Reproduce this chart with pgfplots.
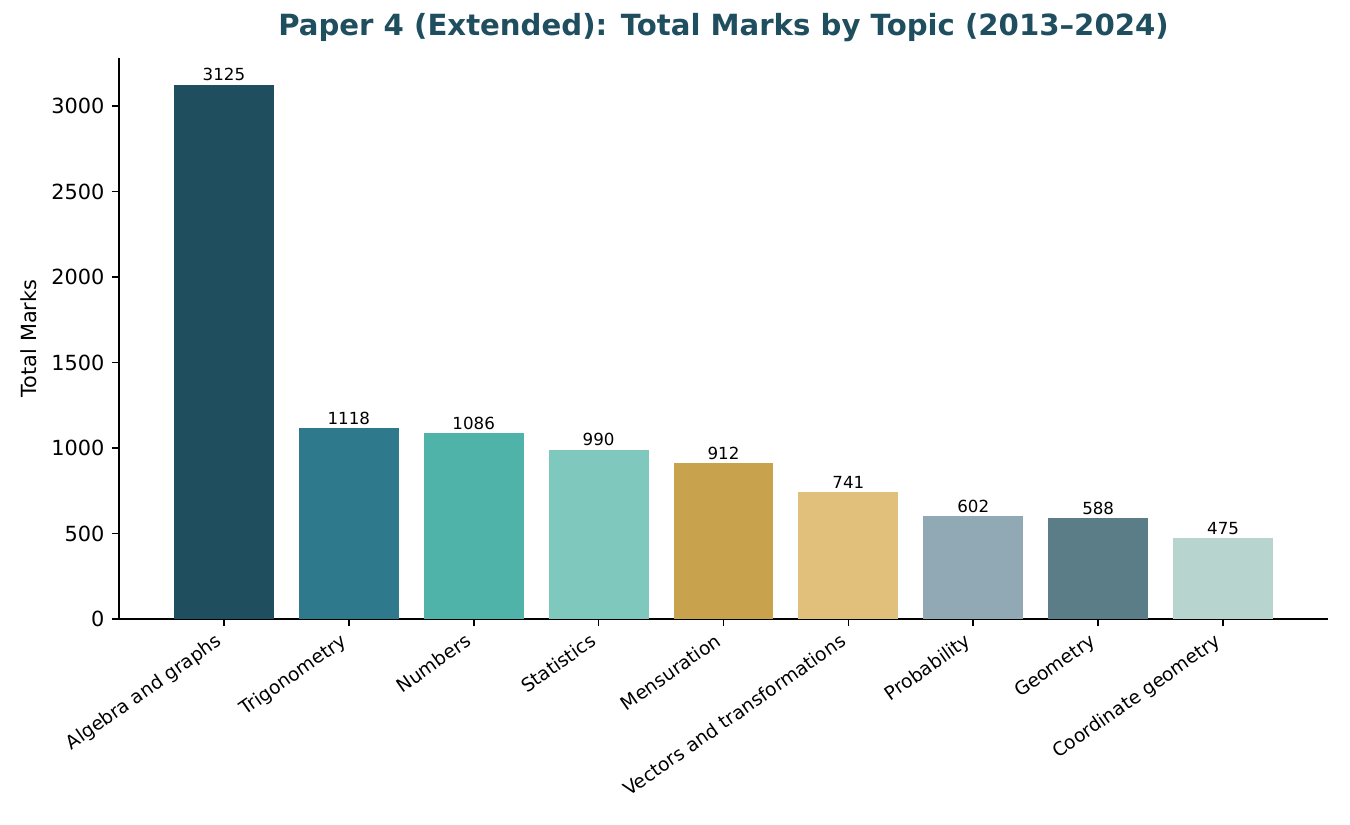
\documentclass[border=0pt]{standalone}
\usepackage{fontspec}
\setmainfont{DejaVu Sans}
\usepackage{pgfplots}
\pgfplotsset{compat=1.18}

\definecolor{titlecol}{HTML}{1F4E5F}
\definecolor{c1}{HTML}{1F4E5F}
\definecolor{c2}{HTML}{2E7A8C}
\definecolor{c3}{HTML}{4FB3A9}
\definecolor{c4}{HTML}{7EC8BE}
\definecolor{c5}{HTML}{C9A24D}
\definecolor{c6}{HTML}{E0C07A}
\definecolor{c7}{HTML}{91A8B5}
\definecolor{c8}{HTML}{5B7D87}
\definecolor{c9}{HTML}{B8D4CE}

\begin{document}
\begin{tikzpicture}
% fixed page: 1350x825 px at 0.48pt per px, axis box at (119,619)px
\useasboundingbox (-57.12pt,-98.88pt) rectangle (590.88pt,297.12pt);
\begin{axis}[
    scale only axis,
    width=580.3pt,
    height=269.3pt,
    at={(0,0)}, anchor=south west,
    xmin=-0.84, xmax=8.84,
    ymin=0, ymax=3281.25,
    axis x line*=bottom,
    axis y line*=left,
    axis line style={line width=0.8pt},
    tick style={line width=0.8pt, black},
    tick align=outside,
    major tick length=3.5pt,
    xtick={0,...,8},
    xticklabels={Algebra and graphs, Trigonometry, Numbers, Statistics, Mensuration, Vectors and transformations, Probability, Geometry, Coordinate geometry},
    xticklabel style={xshift=-4pt, rotate=35, anchor=north east, font=\fontsize{9}{10}\selectfont, inner sep=2pt},
    ytick={0,500,...,3000},
    yticklabel style={font=\fontsize{10}{12}\selectfont},
    /pgf/number format/assume math mode=true,
    /pgf/number format/1000 sep={},
    ylabel={Total Marks},
    ylabel style={font=\fontsize{10}{12}\selectfont},
    title={\textbf{Paper 4 (Extended): Total Marks by Topic (2013–2024)}},
    title style={font=\fontsize{14}{16}\selectfont, text=titlecol, yshift=-2pt},
    ybar,
    bar width=0.8,
    bar shift=0pt,
    nodes near coords,
    every node near coord/.append style={font=\fontsize{8}{9}\selectfont, black, inner sep=1.5pt},
]
\addplot[fill=c1, draw=none] coordinates {(0,3125)};
\addplot[fill=c2, draw=none] coordinates {(1,1118)};
\addplot[fill=c3, draw=none] coordinates {(2,1086)};
\addplot[fill=c4, draw=none] coordinates {(3,990)};
\addplot[fill=c5, draw=none] coordinates {(4,912)};
\addplot[fill=c6, draw=none] coordinates {(5,741)};
\addplot[fill=c7, draw=none] coordinates {(6,602)};
\addplot[fill=c8, draw=none] coordinates {(7,588)};
\addplot[fill=c9, draw=none] coordinates {(8,475)};
\end{axis}
\end{tikzpicture}
\end{document}
